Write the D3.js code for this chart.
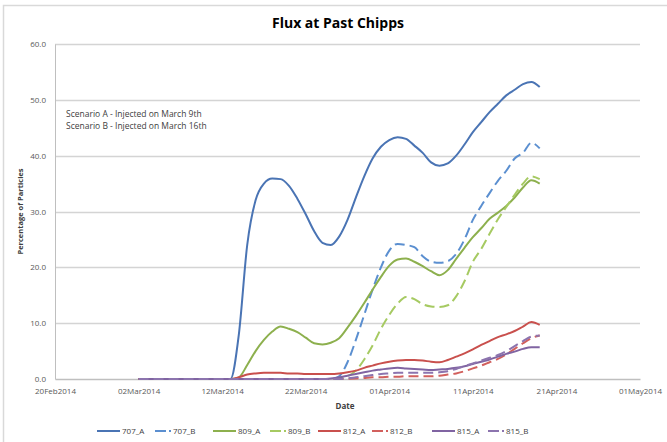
<!DOCTYPE html>
<html>
<head>
<meta charset="utf-8">
<script src="https://cdn.jsdelivr.net/npm/d3@7"></script>
<style>
  html, body { margin: 0; padding: 0; background: #fff; }
  svg { display: block; }
  text { font-family: "Open Sans", "Liberation Sans", sans-serif; }
</style>
</head>
<body>
<svg id="chart" width="667" height="442"></svg>
<script>
// ---------------- DATA ----------------
const title = "Flux at Past Chipps";
const yTitle = "Percentage of Particles";
const xTitle = "Date";
const notes = ["Scenario A - Injected on March 9th", "Scenario B - Injected on March 16th"];

const startDate = "2014-03-02";   // first sample, daily to 2014-04-19
const xDomain = ["2014-02-20", "2014-05-01"];
const xTickDates = ["2014-02-20","2014-03-02","2014-03-12","2014-03-22","2014-04-01","2014-04-11","2014-04-21","2014-05-01"];
const yTicks = [0, 10, 20, 30, 40, 50, 60];

const seriesNames = ["707_A","707_B","809_A","809_B","812_A","812_B","815_A","815_B"];

// 49 daily values: Mar 2 .. Apr 19
const s707_A = [0,0,0,0,0,0,0,0,0,0,0, 0, 8,24,32,35,35.9,35.8,34.6,32.3,29.5,26.5,24.4,24,25.5,28.5,32.5,36.3,39.5,41.6,42.8,43.3,43,41.8,40.5,38.8,38.2,38.6,40,42,44.2,46,47.8,49.3,50.8,51.8,52.8,53.2,52.3];
const s707_B = [0,0,0,0,0,0,0,0,0,0,0, 0,0,0,0,0,0,0,0,0,0,0,0, 0,0.5,3,7,11.5,16,20,23,24.2,24,23.6,22,21,20.8,21.1,22.4,25,28.5,31,33.3,35.5,37.3,39.5,40.5,42.3,41.3];
const s809_A = [0,0,0,0,0,0,0,0,0,0,0, 0,0.3,2.5,5,7,8.5,9.4,9,8.4,7.4,6.4,6.2,6.5,7.3,9.2,11.3,13.6,16,18.3,20.3,21.4,21.6,21,20.2,19.3,18.6,19.5,21.5,23.5,25.4,27,28.7,29.8,31,32.5,34.3,35.6,35];
const s809_B = [0,0,0,0,0,0,0,0,0,0,0, 0,0,0,0,0,0,0,0,0,0,0,0, 0,0.1,0.5,1.5,3.5,6,9,11.5,13.5,14.7,14.3,13.4,13,12.9,13.2,14.8,17.5,21,23.3,26,28.6,30.8,33,35,36.3,35.8];
const s812_A = [0,0,0,0,0,0,0,0,0,0,0, 0,0.3,0.8,1,1.1,1.1,1.1,1,1,0.9,0.9,0.9,0.9,1,1.2,1.5,2,2.4,2.8,3.1,3.3,3.4,3.4,3.3,3.1,3,3.4,4,4.6,5.3,6.1,6.8,7.5,8,8.6,9.4,10.2,9.7];
const s812_B = [0,0,0,0,0,0,0,0,0,0,0, 0,0,0,0,0,0,0,0,0,0,0,0, 0,0,0.05,0.1,0.2,0.3,0.3,0.4,0.4,0.5,0.5,0.5,0.5,0.6,0.8,1,1.4,1.9,2.4,3,3.6,4.4,5.4,6.4,7.3,7.8];
const s815_A = [0,0,0,0,0,0,0,0,0,0,0, 0,0,0,0,0,0,0,0,0,0,0,0, 0.1,0.3,0.6,0.9,1.2,1.5,1.7,1.9,2,1.9,1.8,1.7,1.6,1.7,1.8,2,2.3,2.7,3.1,3.5,4,4.5,4.9,5.4,5.7,5.7];
const s815_B = [0,0,0,0,0,0,0,0,0,0,0, 0,0,0,0,0,0,0,0,0,0,0,0, 0,0,0.1,0.3,0.5,0.7,0.9,1,1.1,1.1,1.1,1.1,1.1,1.2,1.4,1.8,2.3,2.8,3.3,3.8,4.3,5,5.9,6.8,7.6,7.8];

const seriesValues = [s707_A, s707_B, s809_A, s809_B, s812_A, s812_B, s815_A, s815_B];
const seriesColors = ["#4A74B4","#5B8FD0","#8DB04E","#A6CA62","#C9504D","#D2605D","#8064A2","#8C74AE"];
const seriesDashed = [false,true,false,true,false,true,false,true];

// ---------------- DRAW ----------------
const svg = d3.select("#chart");
const W = 667, H = 442;
const m = {left: 55, right: 27, top: 44, bottom: 63};
const parse = d3.timeParse("%Y-%m-%d");
const x = d3.scaleTime().domain(xDomain.map(parse)).range([m.left, W - m.right]);
const y = d3.scaleLinear().domain([0, 60]).range([H - m.bottom, m.top]);

// outer frame
svg.append("rect").attr("x", 3.5).attr("y", 5.5).attr("width", 670).attr("height", 450)
  .attr("fill", "none").attr("stroke", "#D9D9D9").attr("stroke-width", 1.5);

// gridlines
svg.append("g").selectAll("line").data(yTicks.filter(t => t > 0)).join("line")
  .attr("x1", m.left).attr("x2", W - m.right)
  .attr("y1", d => Math.round(y(d)) + 0.5).attr("y2", d => Math.round(y(d)) + 0.5)
  .attr("stroke", "#D4D4D4").attr("stroke-width", 1.3);

// y axis
const yAxis = svg.append("g").attr("transform", `translate(${m.left},0)`)
  .call(d3.axisLeft(y).tickValues(yTicks).tickFormat(d3.format(".1f")).tickSize(0).tickPadding(9));
yAxis.select(".domain").attr("stroke", "#BFBFBF");
yAxis.selectAll("text").attr("font-size", "8px").attr("fill", "#595959");

// x axis
const xAxis = svg.append("g").attr("transform", `translate(0,${H - m.bottom})`)
  .call(d3.axisBottom(x).tickValues(xTickDates.map(parse)).tickFormat(d3.timeFormat("%d%b%Y")).tickSize(0).tickPadding(9));
xAxis.select(".domain").attr("stroke", "#BFBFBF").attr("stroke-width", 1.3);
xAxis.selectAll("text").attr("font-size", "8px").attr("fill", "#595959");

// series
const dates = d3.range(s707_A.length).map(i => d3.timeDay.offset(parse(startDate), i));
const line = d3.line().x((d, i) => x(dates[i])).y(d => y(d)).curve(d3.curveMonotoneX);
seriesValues.forEach((vals, k) => {
  svg.append("path").datum(vals).attr("d", line)
    .attr("fill", "none").attr("stroke", seriesColors[k]).attr("stroke-width", 2)
    .attr("stroke-dasharray", seriesDashed[k] ? "10,5" : null)
    .attr("stroke-linejoin", "round");
});

// title
svg.append("text").attr("x", 338).attr("y", 28).attr("text-anchor", "middle")
  .attr("font-size", "14px").attr("font-weight", "bold").attr("fill", "#000").text(title);

// axis titles
svg.append("text").attr("transform", `translate(23,${(m.top + H - m.bottom) / 2}) rotate(-90)`)
  .attr("text-anchor", "middle").attr("font-size", "7.5px").attr("font-weight", "bold").attr("fill", "#404040").text(yTitle);
svg.append("text").attr("x", 345).attr("y", 409).attr("text-anchor", "middle")
  .attr("font-size", "8px").attr("font-weight", "bold").attr("fill", "#404040").text(xTitle);

// notes
notes.forEach((t, i) => {
  svg.append("text").attr("x", 66).attr("y", 117 + i * 12).attr("font-size", "8.5px").attr("fill", "#404040").text(t);
});

// legend
const legendX = [97, 155, 213, 270, 318, 372, 432, 488];
const lg = svg.append("g");
seriesNames.forEach((n, k) => {
  const dashed = seriesDashed[k];
  const len = dashed ? 16 : 23;
  lg.append("line").attr("x1", legendX[k]).attr("x2", legendX[k] + len).attr("y1", 431).attr("y2", 431)
    .attr("stroke", seriesColors[k]).attr("stroke-width", 2)
    .attr("stroke-dasharray", dashed ? "11,3" : null);
  lg.append("text").attr("x", legendX[k] + len + 2).attr("y", 434).attr("font-size", "8px").attr("fill", "#404040")
    .text(n);
});
</script>
</body>
</html>
